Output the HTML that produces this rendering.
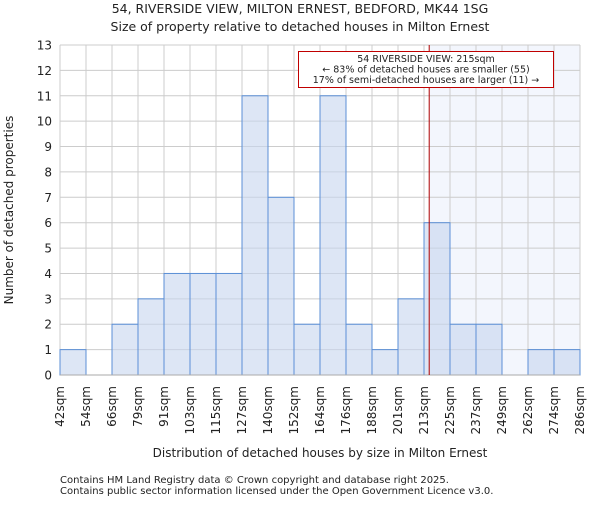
<!DOCTYPE html>
<html><head><meta charset="utf-8"><style>
body{margin:0;background:#fff;font-family:"Liberation Sans","DejaVu Sans",sans-serif;}
svg text{font-family:"DejaVu Sans","Liberation Sans",sans-serif;fill:#222;}
</style></head><body>
<svg id="chart" width="600" height="500" xmlns="http://www.w3.org/2000/svg">
<text x="300" y="13" font-size="12.5" text-anchor="middle">54, RIVERSIDE VIEW, MILTON ERNEST, BEDFORD, MK44 1SG</text>
<text x="300" y="31" font-size="12.5" text-anchor="middle">Size of property relative to detached houses in Milton Ernest</text>
<g id="plot"></g>
<text x="320" y="457" font-size="12" text-anchor="middle">Distribution of detached houses by size in Milton Ernest</text>
<text transform="translate(13,210) rotate(-90)" font-size="12" text-anchor="middle">Number of detached properties</text>
<text x="60" y="483" font-size="10">Contains HM Land Registry data © Crown copyright and database right 2025.</text>
<text x="60" y="494" font-size="10">Contains public sector information licensed under the Open Government Licence v3.0.</text>
</svg>
<script>
const binLabels=["42sqm","54sqm","66sqm","79sqm","91sqm","103sqm","115sqm","127sqm","140sqm","152sqm","164sqm","176sqm","188sqm","201sqm","213sqm","225sqm","237sqm","249sqm","262sqm","274sqm","286sqm"];
const counts=[1,0,2,3,4,4,4,11,7,2,11,2,1,3,6,2,2,0,1,1];
const yTicks=[0,1,2,3,4,5,6,7,8,9,10,11,12,13];
const propertyBinPos=[14.2];
const NS="http://www.w3.org/2000/svg";
const L=60,R=580,T=45,B=375,yMax=13;
const n=counts.length;
const xs=i=>L+(R-L)*i/n;
const ys=v=>B-(B-T)*v/yMax;
const g=document.getElementById('plot');
function mk(t,a){const e=document.createElementNS(NS,t);for(const k in a)e.setAttribute(k,a[k]);g.appendChild(e);return e;}
const lx=xs(propertyBinPos[0]);
let e=mk('rect',{x:lx,y:T,width:R-lx,height:B-T,fill:'#f3f6fd'});


yTicks.forEach(v=>{
 let l=mk('line',{x1:L,x2:R,y1:ys(v),y2:ys(v),stroke:'#ccc','stroke-width':1});
 
 
 let t=mk('text',{x:L-8,y:ys(v)+4.5,'font-size':12,'text-anchor':'end'});t.textContent=v;
 
 
});
binLabels.forEach((s,i)=>{
 let l=mk('line',{x1:xs(i),x2:xs(i),y1:T,y2:B,stroke:'#ccc','stroke-width':1});
 
 
 const x=xs(i)+4;
 let t=mk('text',{x:0,y:0,'font-size':12,'text-anchor':'end',transform:`translate(${x},386) rotate(-90)`});t.textContent=s;
 
 
});
counts.forEach((v,i)=>{
 if(v<=0)return;
 let r=mk('rect',{x:xs(i),y:ys(v),width:xs(i+1)-xs(i),height:B-ys(v),fill:'#c6d6ee','fill-opacity':0.6,stroke:'#5b8fd6','stroke-width':1});
 
 
});
e=mk('line',{x1:L,x2:R,y1:B,y2:B,stroke:'#aaa','stroke-width':1});


e=mk('line',{x1:lx,x2:lx,y1:T,y2:B,stroke:'#b00000','stroke-width':1});


e=mk('rect',{x:298.5,y:51.5,width:255,height:36,fill:'#fff',stroke:'#c00000','stroke-width':1});


["54 RIVERSIDE VIEW: 215sqm","← 83% of detached houses are smaller (55)","17% of semi-detached houses are larger (11) →"].forEach((s,k)=>{
 let t=mk('text',{x:426,y:62+k*10.5,'font-size':9.5,'text-anchor':'middle'});t.textContent=s;
 
 
});
</script>
</body></html>
